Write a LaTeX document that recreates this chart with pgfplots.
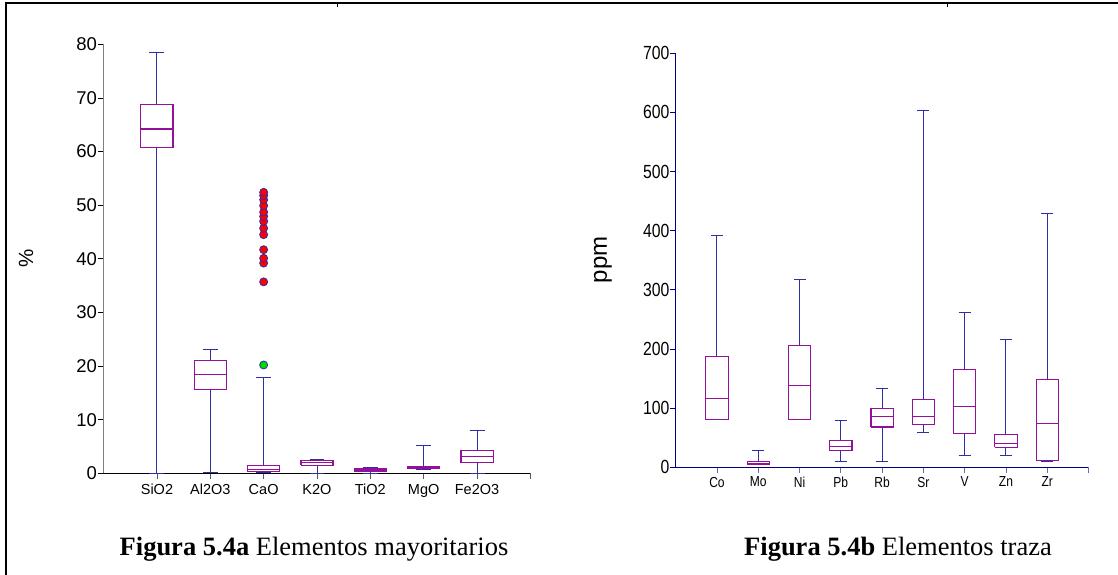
\documentclass[border=0pt]{standalone}
\usepackage{fontspec}
\setmainfont{Liberation Serif}
\newfontfamily\arial{Liberation Sans}
\newfontfamily\arialc{Liberation Sans}[FakeStretch=0.83]
\usepackage{pgfplots}
\usepackage{pgfplotstable}
\pgfplotsset{compat=1.18}
\definecolor{boxc}{HTML}{94109A}
\definecolor{whisc}{HTML}{2E2EA8}
\definecolor{axnavy}{HTML}{000080}
\definecolor{ltblue}{HTML}{6A6AC0}
% ---- left chart (major elements, %): boxes (Q1..Q3) and medians
\pgfplotstableread[row sep=\\]{
x y\\
-0.3 60.7\\ 0.3 60.7\\ 0.3 68.7\\ -0.3 68.7\\ -0.3 60.7\\ nan nan\\ -0.3 64.2\\ 0.3 64.2\\ nan nan\\
0.7 15.7\\ 1.3 15.7\\ 1.3 21.1\\ 0.7 21.1\\ 0.7 15.7\\ nan nan\\ 0.7 18.4\\ 1.3 18.4\\ nan nan\\
1.7 0.3\\ 2.3 0.3\\ 2.3 1.5\\ 1.7 1.5\\ 1.7 0.3\\ nan nan\\ 1.7 0.7\\ 2.3 0.7\\ nan nan\\
2.7 1.5\\ 3.3 1.5\\ 3.3 2.36\\ 2.7 2.36\\ 2.7 1.5\\ nan nan\\ 2.7 2.0\\ 3.3 2.0\\ nan nan\\
3.7 0.43\\ 4.3 0.43\\ 4.3 0.93\\ 3.7 0.93\\ 3.7 0.43\\ nan nan\\ 3.7 0.68\\ 4.3 0.68\\ nan nan\\
4.7 0.85\\ 5.3 0.85\\ 5.3 1.3\\ 4.7 1.3\\ 4.7 0.85\\ nan nan\\ 4.7 1.1\\ 5.3 1.1\\ nan nan\\
5.7 2.0\\ 6.3 2.0\\ 6.3 4.3\\ 5.7 4.3\\ 5.7 2.0\\ nan nan\\ 5.7 3.1\\ 6.3 3.1\\
}\leftboxes
% ---- left chart: whiskers and caps
\pgfplotstableread[row sep=\\]{
x y\\
0 68.7\\ 0 78.4\\ nan nan\\ -0.14 78.4\\ 0.14 78.4\\ nan nan\\ 0 60.7\\ 0 0\\ nan nan\\ -0.14 0\\ 0.14 0\\ nan nan\\
1 21.1\\ 1 23.0\\ nan nan\\ 0.86 23.0\\ 1.14 23.0\\ nan nan\\ 1 15.7\\ 1 0.2\\ nan nan\\ 0.86 0.2\\ 1.14 0.2\\ nan nan\\
2 1.5\\ 2 17.8\\ nan nan\\ 1.86 17.8\\ 2.14 17.8\\ nan nan\\ 1.86 0.2\\ 2.14 0.2\\ nan nan\\
3 2.36\\ 3 2.6\\ nan nan\\ 2.86 2.6\\ 3.14 2.6\\ nan nan\\ 3 1.5\\ 3 0.05\\ nan nan\\ 2.86 0.05\\ 3.14 0.05\\ nan nan\\
4 0.93\\ 4 1.05\\ nan nan\\ 3.86 1.05\\ 4.14 1.05\\ nan nan\\ 4 0.43\\ 4 0.05\\ nan nan\\ 3.86 0.05\\ 4.14 0.05\\ nan nan\\
5 1.3\\ 5 5.2\\ nan nan\\ 4.86 5.2\\ 5.14 5.2\\ nan nan\\ 4.86 0.75\\ 5.14 0.75\\ nan nan\\
6 4.3\\ 6 7.95\\ nan nan\\ 5.86 7.95\\ 6.14 7.95\\ nan nan\\ 6 2.0\\ 6 0\\ nan nan\\ 5.86 0\\ 6.14 0\\
}\leftwhisk
% ---- right chart (trace elements, ppm): boxes and medians
\pgfplotstableread[row sep=\\]{
x y\\
-0.27 80.1\\ 0.27 80.1\\ 0.27 187.3\\ -0.27 187.3\\ -0.27 80.1\\ nan nan\\ -0.27 116.8\\ 0.27 116.8\\ nan nan\\
0.73 5.6\\ 1.27 5.6\\ 1.27 9.6\\ 0.73 9.6\\ 0.73 5.6\\ nan nan\\ 0.73 7\\ 1.27 7\\ nan nan\\
1.73 80.1\\ 2.27 80.1\\ 2.27 205.9\\ 1.73 205.9\\ 1.73 80.1\\ nan nan\\ 1.73 138.7\\ 2.27 138.7\\ nan nan\\
2.73 28.2\\ 3.27 28.2\\ 3.27 45.1\\ 2.73 45.1\\ 2.73 28.2\\ nan nan\\ 2.73 35.5\\ 3.27 35.5\\ nan nan\\
3.73 68.2\\ 4.27 68.2\\ 4.27 99.8\\ 3.73 99.8\\ 3.73 68.2\\ nan nan\\ 3.73 85.2\\ 4.27 85.2\\ nan nan\\
4.73 72.8\\ 5.27 72.8\\ 5.27 115\\ 4.73 115\\ 4.73 72.8\\ nan nan\\ 4.73 86.3\\ 5.27 86.3\\ nan nan\\
5.73 57\\ 6.27 57\\ 6.27 165.3\\ 5.73 165.3\\ 5.73 57\\ nan nan\\ 5.73 103.2\\ 6.27 103.2\\ nan nan\\
6.73 33.8\\ 7.27 33.8\\ 7.27 55.8\\ 6.73 55.8\\ 6.73 33.8\\ nan nan\\ 6.73 39.5\\ 7.27 39.5\\ nan nan\\
7.73 11.3\\ 8.27 11.3\\ 8.27 148.3\\ 7.73 148.3\\ 7.73 11.3\\ nan nan\\ 7.73 73.9\\ 8.27 73.9\\
}\rightboxes
% ---- right chart: whiskers and caps
\pgfplotstableread[row sep=\\]{
x y\\
0 187.3\\ 0 391.8\\ nan nan\\ -0.145 391.8\\ 0.145 391.8\\ nan nan\\ -0.145 80\\ 0.145 80\\ nan nan\\
1 9.6\\ 1 28.8\\ nan nan\\ 0.855 28.8\\ 1.145 28.8\\ nan nan\\ 1 5.6\\ 1 4\\ nan nan\\ 0.855 4\\ 1.145 4\\ nan nan\\
2 205.9\\ 2 318\\ nan nan\\ 1.855 318\\ 2.145 318\\ nan nan\\ 1.855 80\\ 2.145 80\\ nan nan\\
3 45.1\\ 3 79\\ nan nan\\ 2.855 79\\ 3.145 79\\ nan nan\\ 3 28.2\\ 3 9.6\\ nan nan\\ 2.855 9.6\\ 3.145 9.6\\ nan nan\\
4 99.8\\ 4 133.7\\ nan nan\\ 3.855 133.7\\ 4.145 133.7\\ nan nan\\ 4 68.2\\ 4 9.6\\ nan nan\\ 3.855 9.6\\ 4.145 9.6\\ nan nan\\
5 115\\ 5 603\\ nan nan\\ 4.855 603\\ 5.145 603\\ nan nan\\ 5 72.8\\ 5 59.2\\ nan nan\\ 4.855 59.2\\ 5.145 59.2\\ nan nan\\
6 165.3\\ 6 261.7\\ nan nan\\ 5.855 261.7\\ 6.145 261.7\\ nan nan\\ 6 57\\ 6 20.3\\ nan nan\\ 5.855 20.3\\ 6.145 20.3\\ nan nan\\
7 55.8\\ 7 216\\ nan nan\\ 6.855 216\\ 7.145 216\\ nan nan\\ 7 33.8\\ 7 20.3\\ nan nan\\ 6.855 20.3\\ 7.145 20.3\\ nan nan\\
8 148.3\\ 8 429.6\\ nan nan\\ 7.855 429.6\\ 8.145 429.6\\ nan nan\\ 8 11.3\\ 8 9.6\\ nan nan\\ 7.855 9.6\\ 8.145 9.6\\
}\rightwhisk
\begin{document}
\begin{tikzpicture}[x=1pt,y=1pt]
\useasboundingbox (0,0) rectangle (1118,575);
\draw[line width=1.6pt] (6,572) -- (1118,572);
\draw[line width=1.6pt] (6,572.8) -- (6,0);
\draw[line width=0.6pt] (337,572) -- (337,568);
\draw[line width=0.6pt] (947,572) -- (947,568);

% ---------------- left chart
\begin{axis}[
  at={(103.6pt,101.7pt)}, anchor=south west,
  scale only axis, width=426.8pt, height=429pt,
  xmin=-1, xmax=7, ymin=0, ymax=80,
  axis x line=bottom, axis y line=left,
  axis line style={-},
  x axis line style={black, line width=1pt},
  y axis line style={gray, line width=1.6pt},
  tick align=outside, major tick length=5.5pt,
  xtick={0,1,2,3,4,5,6},
  xticklabels={SiO2,Al2O3,CaO,K2O,TiO2,MgO,Fe2O3},
  extra x ticks={7}, extra x tick labels={},
  extra x tick style={tick style={black, line width=0.9pt}},
  x tick style={gray!70!black, line width=0.8pt},
  y tick style={black, line width=0.8pt},
  ytick={0,10,...,80},
  /pgf/number format/assume math mode=true,
  yticklabel style={font=\arial\fontsize{18.5}{20}\selectfont, inner xsep=1pt},
  xticklabel style={font=\arial\fontsize{14.5}{16}\selectfont, inner ysep=5pt},
  unbounded coords=jump,
  clip=false,
]
\addplot[whisc, line width=1pt, mark=none] table[x=x, y=y] {\leftwhisk};
\addplot[boxc, line width=1.1pt, mark=none, line join=miter] table[x=x, y=y] {\leftboxes};
\addplot[only marks, mark=*, mark size=4pt, mark options={fill=red, draw=whisc, line width=0.8pt}] coordinates {
(2,35.7) (2,39.2) (2,40.1) (2,41.7) (2,44.5) (2,45.7) (2,47.0) (2,47.9) (2,48.7) (2,49.9) (2,51.0) (2,51.8) (2,52.4)};
\addplot[only marks, mark=*, mark size=4pt, mark options={fill=green!85!black, draw=whisc, line width=0.8pt}] coordinates {(2,20.2)};
\end{axis}

% ---------------- right chart
\begin{axis}[
  at={(675.7pt,107.7pt)}, anchor=south west,
  scale only axis, width=412.8pt, height=414pt,
  xmin=-1, xmax=9, ymin=0, ymax=700,
  axis x line=bottom, axis y line=left,
  axis line style={-, axnavy, line width=1.2pt},
  tick align=outside, major tick length=5.5pt,
  xtick={0,1,2,3,4,5,6,7,8},
  xticklabels={Co,Mo,Ni,Pb,Rb,Sr,V,Zn,Zr},
  extra x ticks={9}, extra x tick labels={},
  extra x tick style={tick style={axnavy, line width=1.1pt}},
  x tick style={ltblue, line width=0.9pt},
  y tick style={axnavy, line width=0.9pt},
  ytick={0,100,...,700},
  /pgf/number format/assume math mode=true,
  yticklabel style={font=\arialc\fontsize{19}{20}\selectfont, inner xsep=0.5pt},
  xticklabel style={font=\arialc\fontsize{14.5}{16}\selectfont, inner ysep=4pt},
  unbounded coords=jump,
  clip=false,
]
\addplot[whisc, line width=1pt, mark=none] table[x=x, y=y] {\rightwhisk};
\addplot[boxc, line width=1.1pt, mark=none, line join=miter] table[x=x, y=y] {\rightboxes};
\end{axis}

% axis titles and captions
\node[rotate=90, font=\arial\fontsize{20.5}{22}\selectfont] at (26,317) {\%};
\node[rotate=90, font=\arial\fontsize{24}{26}\selectfont] at (603,315) {ppm};
\node[anchor=base, font=\fontsize{26.5}{30}\selectfont] at (314,19) {\textbf{Figura 5.4a} Elementos mayoritarios};
\node[anchor=base, font=\fontsize{26.5}{30}\selectfont] at (898,19.7) {\textbf{Figura 5.4b} Elementos traza};
\end{tikzpicture}
\end{document}
